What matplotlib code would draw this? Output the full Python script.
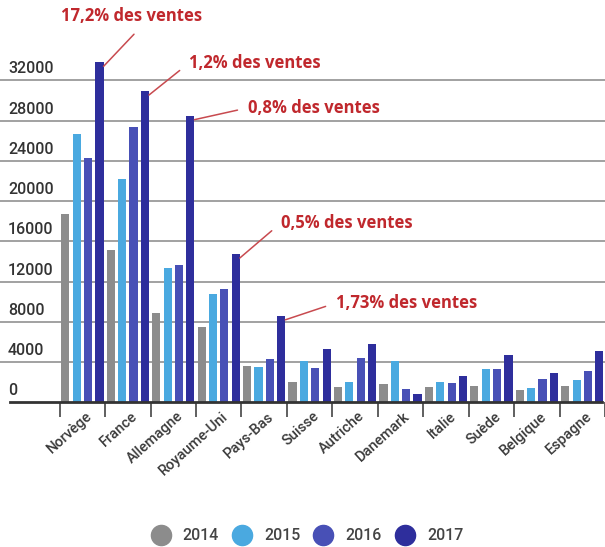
import numpy as np
import matplotlib.pyplot as plt
import matplotlib.transforms as mtransforms
from matplotlib.lines import Line2D

plt.rcParams['font.family'] = ['Roboto', 'DejaVu Sans']

pays = ['Norvège', 'France', 'Allemagne', 'Royaume-Uni', 'Pays-Bas', 'Suisse',
        'Autriche', 'Danemark', 'Italie', 'Suède', 'Belgique', 'Espagne']
annees = ['2014', '2015', '2016', '2017']

v2014 = [18700, 15100, 8900, 7450, 3650, 2000, 1550, 1800, 1500, 1600, 1250, 1600]
v2015 = [26700, 22200, 13400, 10800, 3550, 4150, 2000, 4150, 2050, 3350, 1450, 2200]
v2016 = [24250, 27350, 13650, 11250, 4350, 3400, 4450, 1300, 1900, 3350, 2300, 3150]
v2017 = [33800, 30950, 28500, 14750, 8600, 5250, 5750, 850, 2600, 4700, 2950, 5150]

couleurs = ['#8c8c8c', '#4aa9e0', '#4850b6', '#2e2e9c']
graduations = [0, 4000, 8000, 12000, 16000, 20000, 24000, 28000, 32000]

# parts de marché indiquées pour la barre 2017 de certains pays
parts = {
    'Norvège': ('17,2% des ventes', (-43, 50), (0.58, 0.0)),
    'France': ('1,2% des ventes', (40, 32), (0.0, 0.5)),
    'Allemagne': ('0,8% des ventes', (54, 12), (0.0, 0.5)),
    'Royaume-Uni': ('0,5% des ventes', (41, 35), (0.0, 0.5)),
    'Pays-Bas': ('1,73% des ventes', (51, 17), (0.0, 0.5)),
}

fig = plt.figure(figsize=(6.05, 5.47), dpi=100)
ax = fig.add_axes([0.0, 144.7 / 547, 1.0, 402.3 / 547])

x = np.arange(len(pays))
largeur = 0.18
decalages = [-0.375, -0.125, 0.125, 0.375]
for serie, dx, c in zip([v2014, v2015, v2016, v2017], decalages, couleurs):
    ax.bar(x + dx, serie, width=largeur, color=c, zorder=3)

ax.set_xlim(-60 / 45.7 - 0.5, 545 / 45.7 - 0.5)
ax.set_ylim(0, 40000)

# grille horizontale et libellés au-dessus des lignes
for g in graduations[1:]:
    ax.axhline(g, color='#9a9a9a', lw=1.3, zorder=1)
trans_lbl = mtransforms.blended_transform_factory(mtransforms.IdentityTransform(), ax.transData) \
    + mtransforms.ScaledTranslation(0, 4 / 100, fig.dpi_scale_trans)
for g in graduations:
    ax.text(8, g, str(g), transform=trans_lbl, fontsize=11.5, fontweight='medium',
            color='#333333', ha='left', va='bottom')

for s in ['top', 'right', 'left']:
    ax.spines[s].set_visible(False)
ax.spines['bottom'].set_color('#333333')
ax.spines['bottom'].set_linewidth(2)
ax.spines['bottom'].set_zorder(4)
ax.spines['bottom'].set_bounds((10 - 60) / 45.7 - 0.5, 545 / 45.7 - 0.5)
ax.set_yticks([])

ax.set_xticks(x, pays, rotation=42, ha='right', rotation_mode='anchor',
              fontsize=10.5, fontweight='medium', color='#3a3a3a')
ax.set_xticks(np.arange(len(pays) + 1) - 0.5, minor=True)
ax.tick_params(axis='x', which='major', length=0, pad=5)
ax.tick_params(axis='x', which='minor', length=11, width=1.2, color='#444444')
decal = mtransforms.ScaledTranslation(3 / 100, 0, fig.dpi_scale_trans)
for lbl in ax.get_xticklabels():
    lbl.set_transform(lbl.get_transform() + decal)

for nom, (texte, offset, relpos) in parts.items():
    i = pays.index(nom)
    ax.annotate(texte, xy=(i + 0.375 + 0.09, v2017[i] - 400),
                xytext=(offset[0] * 0.72, offset[1] * 0.72), textcoords='offset points',
                ha='left', va='center', fontsize=12, fontweight='bold',
                family=['Open Sans', 'DejaVu Sans'], color='#c0282d',
                arrowprops=dict(arrowstyle='-', color='#c84a4f', lw=1.1,
                                relpos=relpos, shrinkA=6, shrinkB=0),
                annotation_clip=False, zorder=5)

poignees = [Line2D([], [], ls='', marker='o', markersize=14.5, color=c) for c in couleurs]
fig.legend(poignees, annees, loc='center', bbox_to_anchor=(308 / 605, 11.3 / 547),
           ncol=4, frameon=False, handlelength=1.0, handletextpad=0.9, columnspacing=0.95,
           labelcolor='#444444', prop=dict(family='Roboto', size=11.4, weight='medium'))

plt.savefig('out.png', dpi=100)
